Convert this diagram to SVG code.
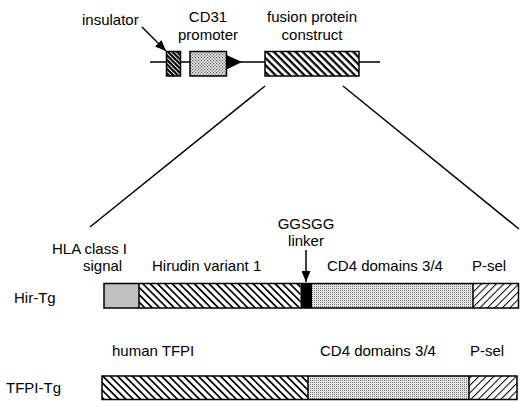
<svg xmlns="http://www.w3.org/2000/svg" width="520" height="401" viewBox="0 0 520 401">
<defs>
<style>
text{font-family:"Liberation Sans",Arial,sans-serif;font-size:15px;fill:#000}
.box{stroke:#000;stroke-width:1.5}
.ln{stroke:#000;stroke-width:1.5;fill:none}
</style>
<pattern id="hInsul" patternUnits="userSpaceOnUse" width="4" height="3.2" patternTransform="rotate(45)">
<rect width="4" height="3.2" fill="#fff"/><rect width="4" height="2.2" fill="#000"/>
</pattern>
<pattern id="hBig" patternUnits="userSpaceOnUse" width="8" height="5.1" patternTransform="rotate(45)">
<rect width="8" height="5.1" fill="#fff"/><rect width="8" height="2.2" fill="#000"/>
</pattern>
<pattern id="hMed" patternUnits="userSpaceOnUse" width="8" height="5.2" patternTransform="rotate(45)">
<rect width="8" height="5.2" fill="#fff"/><rect width="8" height="1.7" fill="#000"/>
</pattern>
<pattern id="hThin" patternUnits="userSpaceOnUse" width="8" height="5.3" patternTransform="rotate(-45)">
<rect width="8" height="5.3" fill="#fff"/><rect width="8" height="1" fill="#000"/>
</pattern>
<pattern id="dotCoarse" patternUnits="userSpaceOnUse" width="3" height="3">
<rect width="3" height="3" fill="#eee"/><rect width="1.2" height="1.2" fill="#555"/><rect x="1.5" y="1.5" width="1.2" height="1.2" fill="#555"/>
</pattern>
<pattern id="dotFine" patternUnits="userSpaceOnUse" width="2" height="2">
<rect width="2" height="2" fill="#e6e6e6"/><rect width="1" height="1" fill="#777"/>
</pattern>
<marker id="ah" viewBox="0 0 10 10" refX="10" refY="5" markerWidth="11" markerHeight="9" markerUnits="userSpaceOnUse" orient="auto" preserveAspectRatio="none">
<path d="M0,0 L10,5 L0,10 z" fill="#000"/>
</marker>
</defs>

<g id="connectors">
<line class="ln" x1="150" y1="62" x2="380" y2="62"/>
<line class="ln" x1="142" y1="27" x2="166" y2="51" marker-end="url(#ah)"/>
<line class="ln" x1="265" y1="86" x2="90" y2="227"/>
<line class="ln" x1="343" y1="86" x2="519" y2="229"/>
<line class="ln" x1="306" y1="250" x2="306" y2="282" marker-end="url(#ah)"/>
</g>

<g id="insulator">
<rect class="box" x="166.5" y="51.5" width="14" height="24.5" fill="url(#hInsul)"/>
<text x="82" y="25">insulator</text>
</g>

<g id="promoter">
<rect class="box" x="190" y="51.5" width="36.5" height="24.5" fill="url(#dotCoarse)"/>
<path d="M226.5,55 L242,62 L226.5,69.5 z" fill="#000"/>
<text x="208" y="22" text-anchor="middle">CD31</text>
<text x="208" y="40" text-anchor="middle">promoter</text>
</g>

<g id="construct">
<rect class="box" x="265" y="51.5" width="94" height="24.5" fill="url(#hBig)"/>
<text x="312" y="22" text-anchor="middle">fusion protein</text>
<text x="312" y="40" text-anchor="middle">construct</text>
</g>

<g id="hir-tg">
<text x="14" y="303">Hir-Tg</text>
<rect x="104" y="283.5" width="35" height="24.5" fill="#c0c0c0"/>
<rect x="139" y="283.5" width="161.5" height="24.5" fill="url(#hMed)"/>
<rect x="300.5" y="283.5" width="11.5" height="24.5" fill="#000"/>
<rect x="312" y="283.5" width="161" height="24.5" fill="url(#dotFine)"/>
<rect x="473" y="283.5" width="46" height="24.5" fill="url(#hThin)"/>
<line class="ln" x1="139" y1="283.5" x2="139" y2="308"/>
<line class="ln" x1="473" y1="283.5" x2="473" y2="308"/>
<rect class="box" x="104" y="283.5" width="414.5" height="24.5" fill="none"/>
<text x="127" y="254" text-anchor="end">HLA class I</text>
<text x="83" y="271">signal</text>
<text x="152" y="271">Hirudin variant 1</text>
<text x="306" y="229" text-anchor="middle">GGSGG</text>
<text x="306" y="246" text-anchor="middle">linker</text>
<text x="327" y="271">CD4 domains 3/4</text>
<text x="472" y="271">P-sel</text>
</g>

<g id="tfpi-tg">
<text x="6" y="393">TFPI-Tg</text>
<rect x="102" y="376" width="206" height="23.5" fill="url(#hMed)"/>
<rect x="308" y="376" width="161" height="23.5" fill="url(#dotFine)"/>
<rect x="469" y="376" width="48" height="23.5" fill="url(#hThin)"/>
<line class="ln" x1="308" y1="376" x2="308" y2="399.5"/>
<line class="ln" x1="469" y1="376" x2="469" y2="399.5"/>
<rect class="box" x="102" y="376" width="415" height="23.5" fill="none"/>
<text x="112" y="356">human TFPI</text>
<text x="320" y="356">CD4 domains 3/4</text>
<text x="470" y="356">P-sel</text>
</g>
</svg>
